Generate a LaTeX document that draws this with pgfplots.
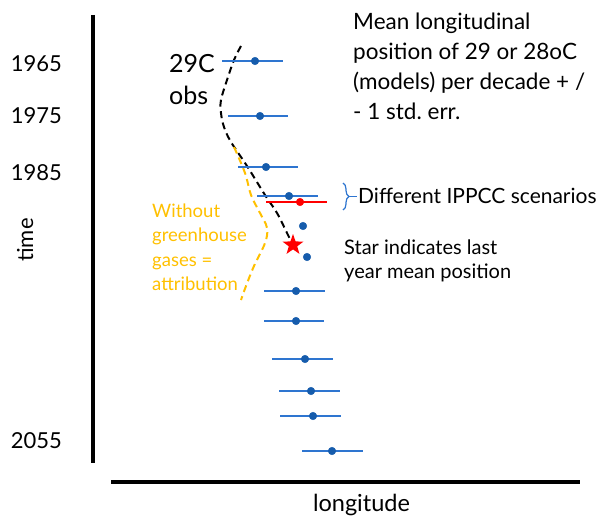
\documentclass[border=0pt]{standalone}
\usepackage{pgfplots}
\pgfplotsset{compat=1.18}
\usepackage{fontspec}
\setmainfont{Lato}
\usetikzlibrary{decorations.pathreplacing}
\definecolor{barblue}{RGB}{46,117,208}
\definecolor{dotblue}{RGB}{22,92,172}
\definecolor{gold}{RGB}{255,192,0}
\pgfdeclareplotmark{fstar}{%
  \pgfpathmoveto{\pgfpointpolar{90}{\pgfplotmarksize}}%
  \pgfpathlineto{\pgfpointpolar{126}{0.40\pgfplotmarksize}}%
  \pgfpathlineto{\pgfpointpolar{162}{\pgfplotmarksize}}%
  \pgfpathlineto{\pgfpointpolar{198}{0.40\pgfplotmarksize}}%
  \pgfpathlineto{\pgfpointpolar{234}{\pgfplotmarksize}}%
  \pgfpathlineto{\pgfpointpolar{270}{0.40\pgfplotmarksize}}%
  \pgfpathlineto{\pgfpointpolar{306}{\pgfplotmarksize}}%
  \pgfpathlineto{\pgfpointpolar{342}{0.40\pgfplotmarksize}}%
  \pgfpathlineto{\pgfpointpolar{18}{\pgfplotmarksize}}%
  \pgfpathlineto{\pgfpointpolar{54}{0.40\pgfplotmarksize}}%
  \pgfpathclose
  \pgfusepathqfill}
\begin{document}
\begin{tikzpicture}
\begin{axis}[name=ax, width=611pt, height=519pt, scale only axis,
  xmin=0, xmax=611, ymin=0, ymax=519, y dir=reverse, hide axis, clip=false]
% axis lines
\addplot[black, line width=3.2pt, forget plot] coordinates {(93,15) (93,463)};
\addplot[black, line width=3.2pt, forget plot] coordinates {(111,482) (580,482)};
% observed (black dashed)
\addplot[black, line width=2pt, dash pattern=on 7pt off 4.5pt, smooth, tension=0.6] coordinates {
 (241,46) (234,60) (227,80) (221,100) (221,113) (224,127) (231,142) (247,166) (265,195) (277,213) (287,233) (291,241)};
% without greenhouse gases (gold dashed)
\addplot[gold, line width=2pt, dash pattern=on 7pt off 4.5pt, smooth, tension=0.6] coordinates {
 (234,147) (245,173) (251,195) (260,213) (267,228) (265,243) (254,266) (246,286) (241,300)};
% model means with std err bars
\addplot[only marks, mark=*, mark size=3.8pt, dotblue,
  error bars/.cd, x dir=both, x explicit, error mark=none,
  error bar style={barblue, line width=1.5pt}] coordinates {
 (255,61) -= (33,0) += (28,0)
 (260,116) -= (32,0) += (28,0)
 (266,167) -= (28,0) += (32,0)
 (289,196) -= (32,0) += (29,0)
 (296,291) -= (32,0) += (29,0)
 (296,321) -= (32,0) += (28,0)
 (305,359) -= (33,0) += (28,0)
 (311,391) -= (32,0) += (29,0)
 (313,416) -= (33,0) += (28,0)
 (332,451) -= (30,0) += (31,0)
};
\addplot[only marks, mark=*, mark size=3.8pt, red,
  error bars/.cd, x dir=both, x explicit, error mark=none,
  error bar style={red, line width=1.5pt}] coordinates {
 (300,202) -= (34,0) += (27,0)
};
\addplot[only marks, mark=*, mark size=3.8pt, dotblue] coordinates {(303,226) (307,257)};
% last year mean position
\addplot[only marks, mark=fstar, mark size=11pt, red] coordinates {(293,245)};
% brace
\draw[barblue, line width=1.2pt, decorate, decoration={brace, amplitude=6pt}] (axis cs:343,183) -- (axis cs:343,210);
\draw[barblue, line width=1.2pt] (axis cs:349,196.5) -- (axis cs:357,196.5);
% texts
\begin{scope}[every node/.style={inner sep=0pt}]
\node[anchor=base west, font=\fontsize{22.5}{22}\selectfont] at (axis cs:353,30) {Mean longitudinal};
\node[anchor=base west, font=\fontsize{22.5}{22}\selectfont] at (axis cs:353,60) {position of 29 or 28oC};
\node[anchor=base west, font=\fontsize{22.5}{22}\selectfont] at (axis cs:353,89) {(models) per decade + /};
\node[anchor=base west, font=\fontsize{22.5}{22}\selectfont] at (axis cs:353,119) {- 1 std.\ err.};
\node[anchor=base west, font=\fontsize{25}{25}\selectfont] at (axis cs:169,73) {29C};
\node[anchor=base west, font=\fontsize{25}{25}\selectfont] at (axis cs:169,104) {obs};
\node[anchor=base east, font=\fontsize{22}{22}\selectfont] at (axis cs:62,72) {1965};
\node[anchor=base east, font=\fontsize{22}{22}\selectfont] at (axis cs:62,124) {1975};
\node[anchor=base east, font=\fontsize{22}{22}\selectfont] at (axis cs:62,180) {1985};
\node[anchor=base east, font=\fontsize{22}{22}\selectfont] at (axis cs:62,448) {2055};
\node[anchor=base, rotate=90, font=\fontsize{22}{22}\selectfont] at (axis cs:33,240) {time};
\node[anchor=base, font=\fontsize{23.5}{23}\selectfont] at (axis cs:361.5,511) {longitude};
\node[anchor=base west, font=\fontsize{18.5}{18}\selectfont, text=gold] at (axis cs:152,217) {Without};
\node[anchor=base west, font=\fontsize{18.5}{18}\selectfont, text=gold] at (axis cs:152,241.5) {greenhouse};
\node[anchor=base west, font=\fontsize{18.5}{18}\selectfont, text=gold] at (axis cs:152,266) {gases =};
\node[anchor=base west, font=\fontsize{18.5}{18}\selectfont, text=gold] at (axis cs:152,290) {attribution};
\node[anchor=base west, font=\fontsize{21}{21}\selectfont] at (axis cs:358,203.5) {Different IPPCC scenarios};
\node[anchor=base west, font=\fontsize{20}{20}\selectfont] at (axis cs:344,254.5) {Star indicates last};
\node[anchor=base west, font=\fontsize{20}{20}\selectfont] at (axis cs:344,278.3) {year mean position};
\end{scope}
\end{axis}
\pgfresetboundingbox
\path (ax.south west) rectangle (ax.north east);
\end{tikzpicture}
\end{document}
